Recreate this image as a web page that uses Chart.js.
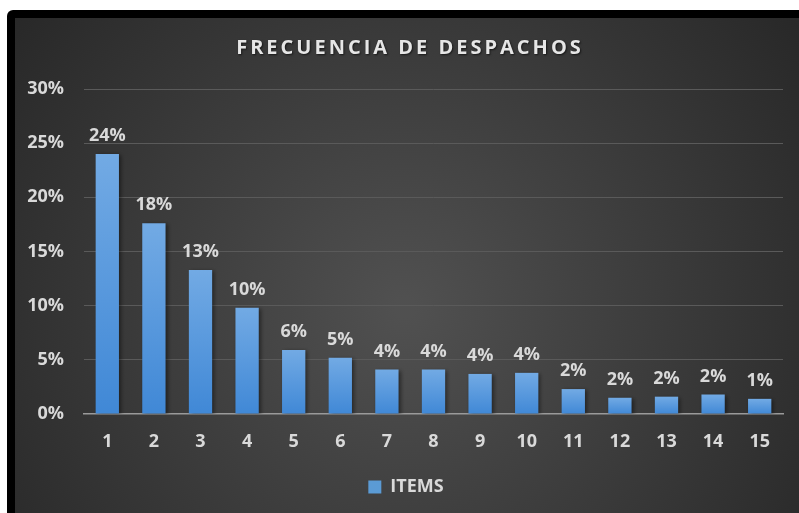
<!DOCTYPE html>
<html>
<head>
<meta charset="utf-8">
<script src="https://cdn.jsdelivr.net/npm/chart.js@4.4.1/dist/chart.umd.min.js"></script>
<style>
  html, body { margin: 0; padding: 0; background: #fff; overflow: hidden; }
  #frame { position: absolute; left: 7px; top: 10px; width: 810px; height: 510px; background: #000; border-top-left-radius: 6px; }
  #wrap { position: absolute; left: 8px; top: 8px; width: 800px; height: 495px; }
</style>
</head>
<body>
<div id="frame"><div id="wrap"><canvas id="myChart" width="800" height="495"></canvas></div></div>
<script>
const categories = ['1', '2', '3', '4', '5', '6', '7', '8', '9', '10', '11', '12', '13', '14', '15'];
const items = [24.0, 17.6, 13.3, 9.8, 5.9, 5.2, 4.1, 4.1, 3.7, 3.8, 2.3, 1.5, 1.6, 1.8, 1.4];
const yTicks = [0, 5, 10, 15, 20, 25, 30];
const chartTitle = 'FRECUENCIA DE DESPACHOS';

const textColor = '#d9d9d9';
const font = "'Open Sans', sans-serif";

// dark radial background like the excel chart area
const background = {
  id: 'background',
  beforeDraw(chart) {
    const c = chart.ctx;
    const g = c.createRadialGradient(390, 290, 10, 390, 290, 560);
    g.addColorStop(0, '#505050');
    g.addColorStop(1, '#222222');
    c.save();
    c.fillStyle = g;
    c.fillRect(0, 0, chart.width, chart.height);
    c.restore();
  },
  afterLayout(chart) {
    // legend sits a bit right of centre in the original
    chart.legend.left += 7;
    chart.legend.right += 7;
  }
};

// soft shadow on bars, percentage labels above them, spaced title
const barLabels = {
  id: 'barLabels',
  beforeDatasetsDraw(chart) {
    const c = chart.ctx;
    c.save();
    c.shadowColor = 'rgba(0,0,0,0.45)';
    c.shadowBlur = 4;
    c.shadowOffsetX = 2;
    c.shadowOffsetY = 1;
  },
  afterDatasetsDraw(chart) {
    const c = chart.ctx;
    c.restore();
    const meta = chart.getDatasetMeta(0);
    c.save();
    c.font = 'bold 18px ' + font;
    c.fillStyle = textColor;
    c.textAlign = 'center';
    c.textBaseline = 'alphabetic';
    meta.data.forEach((bar, i) => {
      c.fillText(Math.round(items[i]) + '%', bar.x, bar.y - 13);
    });
    c.restore();
  },
  afterDraw(chart) {
    const c = chart.ctx;
    c.save();
    c.font = 'bold 20px ' + font;
    c.letterSpacing = '3px';
    c.fillStyle = '#e6e6e6';
    c.textAlign = 'center';
    c.textBaseline = 'middle';
    c.shadowColor = 'rgba(0,0,0,0.6)';
    c.shadowBlur = 2;
    c.shadowOffsetX = 1;
    c.shadowOffsetY = 1;
    c.fillText(chartTitle, 395, 30);
    c.restore();
  }
};

function barGradient(context) {
  const chart = context.chart;
  if (!chart.chartArea || context.type !== 'data') return '#5b9bd5';
  const y = chart.scales.y;
  const top = y.getPixelForValue(context.raw);
  const bottom = y.getPixelForValue(0);
  if (!isFinite(top) || bottom - top < 1) return '#5b9bd5';
  const g = chart.ctx.createLinearGradient(0, top, 0, bottom);
  g.addColorStop(0, '#72aae4');
  g.addColorStop(1, '#4088d6');
  return g;
}

const ctx = document.getElementById('myChart').getContext('2d');
const myChart = new Chart(ctx, {
  type: 'bar',
  data: {
    labels: categories,
    datasets: [{
      label: 'ITEMS',
      data: items,
      backgroundColor: barGradient,
      categoryPercentage: 1,
      barPercentage: 0.5
    }]
  },
  options: {
    responsive: false,
    animation: false,
    layout: { padding: { left: 0, right: 32, top: 71, bottom: 7 } },
    plugins: {
      title: { display: false },
      legend: {
        position: 'bottom',
        labels: {
          color: textColor,
          font: { family: font, size: 18, weight: 'bold' },
          boxWidth: 13,
          boxHeight: 13,
          padding: 10,
          generateLabels(chart) {
            return [{ text: 'ITEMS', fillStyle: '#5b9bd5', strokeStyle: '#5b9bd5', lineWidth: 0, fontColor: textColor, datasetIndex: 0 }];
          }
        }
      },
      tooltip: { enabled: false }
    },
    scales: {
      x: {
        grid: { display: false, drawTicks: false },
        border: { display: true, color: '#9a9a9a', width: 1.5 },
        ticks: { color: textColor, font: { family: font, size: 18, weight: 'bold' }, padding: 17 },
        afterFit(scale) { scale.height = 54; }
      },
      y: {
        min: 0,
        max: 30,
        afterBuildTicks(scale) { scale.ticks = yTicks.map(v => ({ value: v })); },
        grid: {
          drawTicks: false,
          color: c => c.tick && c.tick.value === 0 ? 'rgba(0,0,0,0)' : '#5a5a5a'
        },
        border: { display: false },
        ticks: {
          color: textColor,
          font: { family: font, size: 18, weight: 'bold' },
          padding: 20,
          callback: v => v + '%'
        },
        afterFit(scale) { scale.width = 69; }
      }
    }
  },
  plugins: [background, barLabels]
});
</script>
</body>
</html>
